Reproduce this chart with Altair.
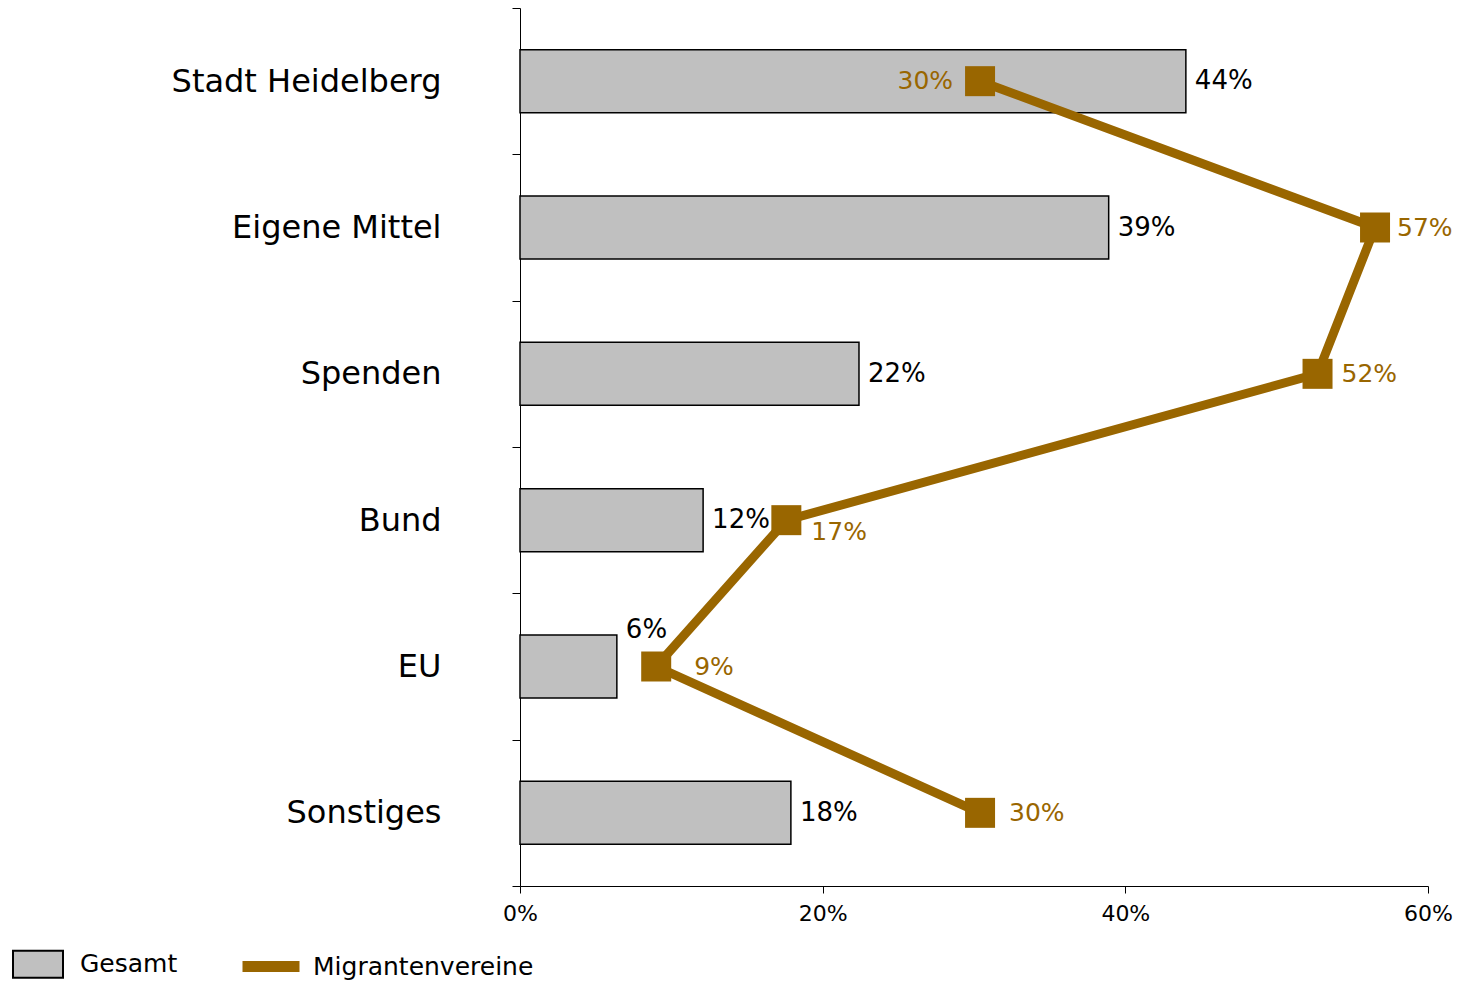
import altair as alt
import pandas as pd

categories = ["Stadt Heidelberg", "Eigene Mittel", "Spenden", "Bund", "EU", "Sonstiges"]
gesamt = [44.0, 38.9, 22.4, 12.1, 6.4, 17.9]
gesamt_labels = ["44%", "39%", "22%", "12%", "6%", "18%"]
migranten = [30.4, 56.5, 52.7, 17.6, 9.0, 30.4]
migranten_labels = ["30%", "57%", "52%", "17%", "9%", "30%"]
series = ["Gesamt", "Migrantenvereine"]
x_ticks = [0, 20, 40, 60]

FONT = "DejaVu Sans"
BROWN = "#996600"

df = pd.DataFrame({
    "cat": categories,
    "gesamt": gesamt,
    "g_lab": gesamt_labels,
    "migr": migranten,
    "m_lab": migranten_labels,
    "order": list(range(len(categories))),
})

y_enc = alt.Y(
    "cat:N", sort=categories,
    scale=alt.Scale(paddingInner=0, paddingOuter=0),
    axis=alt.Axis(title=None, tickBand="extent", tickSize=8, labelFontSize=32,
                  labelPadding=71, labelFont=FONT, labelColor="black", labelLimit=600,
                  domainColor="black", tickColor="black"),
)
x_scale = alt.Scale(domain=[0, 60], nice=False)
x_axis = alt.Axis(values=x_ticks, labelExpr="datum.value + '%'", title=None, grid=False,
                  tickSize=7, labelFontSize=22, labelPadding=10, labelFont=FONT,
                  labelFlush=False, labelColor="black", domainColor="black", tickColor="black")

base = alt.Chart(df)

bars = base.mark_bar(size=63, color="#C0C0C0", stroke="black", strokeWidth=1.5).encode(
    x=alt.X("gesamt:Q", scale=x_scale, axis=x_axis),
    y=y_enc,
)

bar_text = base.transform_filter(alt.datum.cat != "EU").mark_text(
    align="left", baseline="middle", dx=9, fontSize=26, font=FONT, color="black"
).encode(x="gesamt:Q", y=alt.Y("cat:N", sort=categories), text="g_lab:N")

bar_text_eu = base.transform_filter(alt.datum.cat == "EU").mark_text(
    align="left", baseline="middle", dx=9, dy=-37, fontSize=26, font=FONT, color="black"
).encode(x="gesamt:Q", y=alt.Y("cat:N", sort=categories), text="g_lab:N")

line = base.mark_line(color=BROWN, strokeWidth=9).encode(
    x="migr:Q", y=alt.Y("cat:N", sort=categories), order="order:Q"
)
pts = base.mark_square(size=900, color=BROWN, opacity=1).encode(
    x="migr:Q", y=alt.Y("cat:N", sort=categories)
)

label_styles = [
    ("Stadt Heidelberg", "right", -27, 0),
    ("Eigene Mittel", "left", 22, 0),
    ("Spenden", "left", 24, 0),
    ("Bund", "left", 25, 12),
    ("EU", "left", 38, 0),
    ("Sonstiges", "left", 29, 0),
]
line_labels = []
for cat, al, dx, dy in label_styles:
    line_labels.append(
        base.transform_filter(alt.datum.cat == cat).mark_text(
            align=al, baseline="middle", dx=dx, dy=dy, fontSize=25, font=FONT, color=BROWN
        ).encode(x="migr:Q", y=alt.Y("cat:N", sort=categories), text="m_lab:N")
    )

legend = alt.Legend(
    title=None, orient="none", legendX=-508, legendY=930, direction="horizontal",
    symbolSize=2500, symbolStrokeWidth=2, labelFontSize=25, labelFont=FONT,
    labelColor="black", labelOffset=16, columnPadding=61, labelLimit=400,
    symbolOpacity=1, padding=0,
)
legend_df = pd.DataFrame({"series": series})
leg_layer = alt.Chart(legend_df).mark_point(filled=True, opacity=0).encode(
    x=alt.value(0), y=alt.value(0),
    shape=alt.Shape("series:N", scale=alt.Scale(
        domain=series, range=["M-1,-0.54H1V0.54H-1Z", "M-1.1,-0.18H1.1V0.18H-1.1Z"]), legend=legend),
    fill=alt.Fill("series:N", scale=alt.Scale(domain=series, range=["#C0C0C0", BROWN]), legend=legend),
    stroke=alt.Stroke("series:N", scale=alt.Scale(domain=series, range=["#000000", BROWN]), legend=legend),
)

chart = alt.layer(bars, bar_text, bar_text_eu, line, pts, *line_labels, leg_layer).properties(
    width=908, height=878,
    autosize=alt.AutoSizeParams(type="none"),
    padding={"left": 512, "top": 0, "right": 25, "bottom": 95},
).configure_view(stroke=None)

chart.save("out.html", embed_options={"renderer": "svg", "actions": False})
